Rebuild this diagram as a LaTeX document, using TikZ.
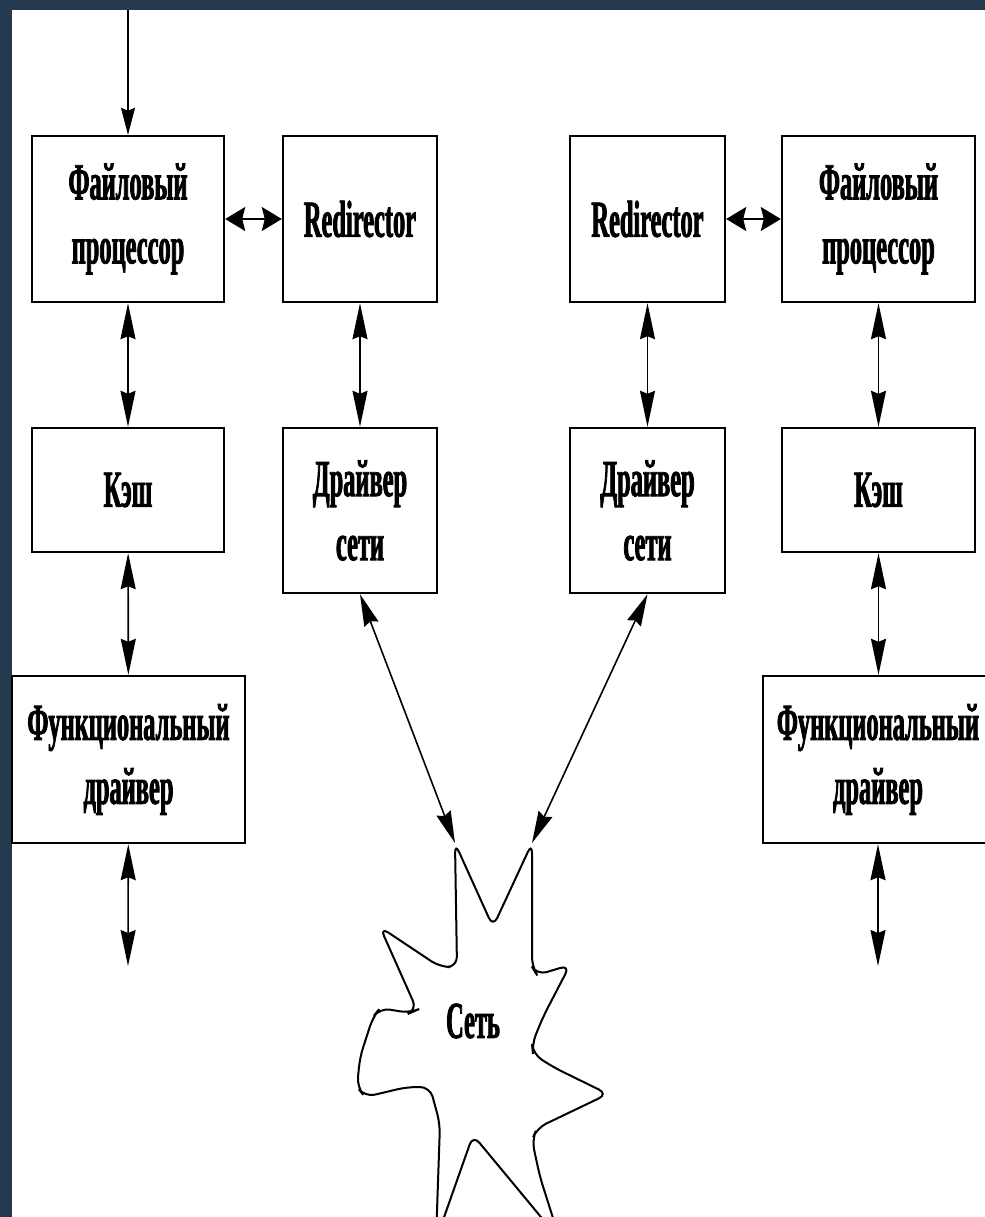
\documentclass[tikz,border=0pt]{standalone}
\usepackage{fontspec}
\setmainfont{Liberation Serif}[FakeStretch=0.47,BoldFeatures={FakeBold=1.5}]
\usetikzlibrary{arrows.meta}
\definecolor{navy}{RGB}{37,58,78}
\tikzset{
  blk/.style={draw,line width=1.2pt,fill=white,inner sep=0pt,align=center,
    font=\bfseries\fontsize{26}{32}\selectfont},
  vlink/.style={<->,>={Stealth[length=18pt,width=7.5pt,inset=1.5pt]},line width=0.8pt},
  hlink/.style={<->,>={Stealth[length=10pt,width=12pt,inset=1.5pt]},line width=0.8pt},
  dlink/.style={<->,>={Stealth[length=16pt,width=7.5pt,inset=1.5pt]},line width=0.8pt}
}
\begin{document}
\begin{tikzpicture}[x=0.5pt,y=-0.5pt]
  \clip (0,0) rectangle (985,1217);
  \fill[white] (0,0) rectangle (985,1217);
  \fill[navy] (0,0) rectangle (985,10);
  \fill[navy] (0,0) rectangle (12,1217);

  \node[blk,minimum width=96pt,minimum height=83pt] (fpL) at (128,219) {Файловый\\процессор};
  \node[blk,minimum width=77pt,minimum height=83pt] (redL) at (360,219) {Redirector};
  \node[blk,minimum width=77.5pt,minimum height=83pt] (redR) at (647.5,219) {Redirector};
  \node[blk,minimum width=96.5pt,minimum height=83pt] (fpR) at (878.5,219) {Файловый\\процессор};

  \node[blk,minimum width=96pt,minimum height=62pt] (cacheL) at (128,490) {Кэш};
  \node[blk,minimum width=77pt,minimum height=82.5pt] (ndL) at (360,510.5) {Драйвер\\сети};
  \node[blk,minimum width=77.5pt,minimum height=82.5pt] (ndR) at (647.5,510.5) {Драйвер\\сети};
  \node[blk,minimum width=96.5pt,minimum height=62pt] (cacheR) at (878.5,490) {Кэш};

  \node[blk,minimum width=116.5pt,minimum height=83.5pt] (fdL) at (128.5,759.5) {Функциональный\\драйвер};
  \node[blk,minimum width=115pt,minimum height=83.5pt] (fdR) at (878,759.5) {Функциональный\\драйвер};

  \draw[line width=1pt,rounded corners=5pt]
    (455,843) -- (493,927) -- (532,843) -- (532,967) -- (537,975) -- (570,965)
    -- (543,1017) -- (532,1044) -- (533,1054) -- (553,1067) -- (608,1094)
    -- (537,1128) -- (532,1140) -- (540,1177) -- (560,1240) -- (473,1135)
    -- (436,1240) -- (440,1124) -- (430,1087) -- (407,1087) -- (365,1097)
    -- (357,1087) -- (360,1057) -- (373,1017) -- (380,1008) -- (410,1013)
    -- (417,1010) -- (380,927) -- (440,967) -- (457,967) -- cycle;
  \node[font=\bfseries\fontsize{26}{32}\selectfont] (net) at (473,1021) {Сеть};

  \coordinate (in) at (128,10);
  \coordinate (tipL) at (455,843);
  \coordinate (tipR) at (532,843);
  \coordinate (outL) at (128,966);
  \coordinate (outR) at (878,966);

  \draw[->,>={Stealth[length=13.5pt,width=7pt,inset=1.5pt]},line width=0.8pt] (in) -- (fpL);
  \draw[hlink] (fpL) -- (redL);
  \draw[hlink] (redR) -- (fpR);
  \draw[vlink] (fpL) -- (cacheL);
  \draw[vlink] (cacheL) -- (fdL);
  \draw[vlink] (fdL) -- (outL);
  \draw[vlink] (redL) -- (ndL);
  \draw[vlink] (redR) -- (ndR);
  \draw[vlink] (fpR.south -| cacheR) -- (cacheR);
  \draw[vlink] (cacheR.south) -- (cacheR.south |- fdR.north);
  \draw[vlink] (fdR) -- (outR);
  \draw[dlink] (ndL.south) -- (tipL);
  \draw[dlink] (ndR.south) -- (tipR);
\end{tikzpicture}
\end{document}
